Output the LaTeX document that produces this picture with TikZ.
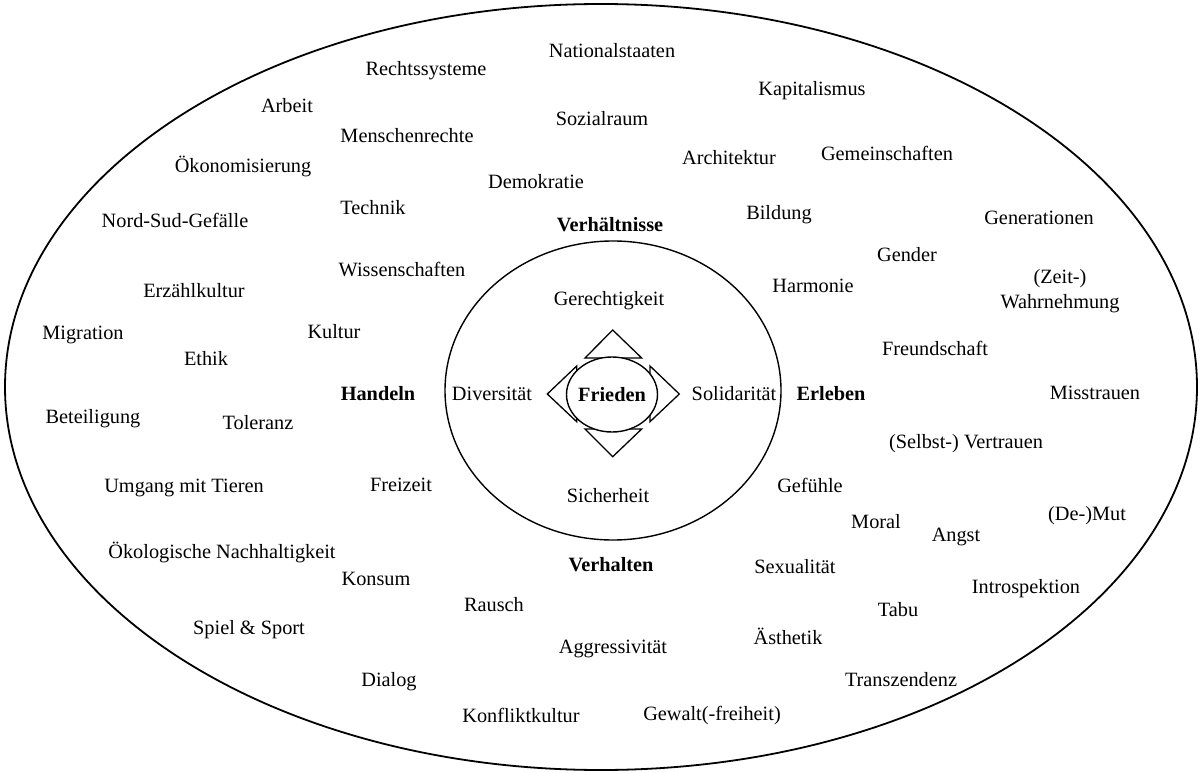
\documentclass[tikz,border=0pt]{standalone}
\usepackage{fontspec}
\setmainfont{Liberation Serif}
\usetikzlibrary{shapes.geometric}
\begin{document}
\begin{tikzpicture}[x=1pt,y=-1pt,
  lbl/.style={anchor=base,inner sep=0pt,yshift=-1.5pt,font=\fontsize{20.3}{24}\selectfont},
  blbl/.style={lbl,font=\fontsize{20.3}{24}\selectfont\bfseries},
  tri/.style={draw,line width=1.3pt,fill=white,line join=miter}]
\useasboundingbox (0,0) rectangle (1200,773);
% ellipses
\node[draw,line width=1.8pt,ellipse,minimum width=1192pt,minimum height=766pt,inner sep=0pt] (outer) at (601,387) {};
\node[draw,line width=1.4pt,ellipse,minimum width=336pt,minimum height=299pt,inner sep=0pt] (inner) at (613,390.5) {};
% triangles
\draw[tri] (585,358) -- (612.7,330) -- (641.7,358) -- cycle;
\draw[tri] (585,429) -- (612.7,456.7) -- (641.7,429) -- cycle;
\draw[tri] (576.7,366) -- (547.3,394) -- (576.7,421.7) -- cycle;
\draw[tri] (650,366) -- (679.3,394) -- (650,421.7) -- cycle;
\node[draw,line width=1.4pt,ellipse,fill=white,minimum width=91pt,minimum height=75pt,inner sep=0pt] (frieden) at (612,394.5) {};
\node[blbl] (fr) at (612,400) {Frieden};
% labels
\node[lbl] (n1) at (612,56) {Nationalstaaten};
\node[lbl] (n2) at (426,74) {Rechtssysteme};
\node[lbl] (n3) at (812,94) {Kapitalismus};
\node[lbl] (n4) at (287,111) {Arbeit};
\node[lbl] (n5) at (602,124) {Sozialraum};
\node[lbl] (n6) at (407,141) {Menschenrechte};
\node[lbl] (n7) at (729,163) {Architektur};
\node[lbl] (n8) at (887,159) {Gemeinschaften};
\node[lbl] (n9) at (243,171) {Ökonomisierung};
\node[lbl] (n10) at (536,187) {Demokratie};
\node[lbl] (n11) at (373,213) {Technik};
\node[lbl] (n12) at (779,218) {Bildung};
\node[lbl] (n13) at (175,226) {Nord-Sud-Gefälle};
\node[lbl] (n14) at (1039,223) {Generationen};
\node[blbl] (n15) at (610,230) {Verhältnisse};
\node[lbl] (n16) at (907,260) {Gender};
\node[lbl] (n17a) at (1060,282) {(Zeit-)};
\node[lbl] (n17b) at (1060,307) {Wahrnehmung};
\node[lbl] (n18) at (402,275) {Wissenschaften};
\node[lbl] (n19) at (813,291) {Harmonie};
\node[lbl] (n20) at (194,296) {Erzählkultur};
\node[lbl] (n21) at (609,304) {Gerechtigkeit};
\node[lbl] (n22) at (83,338) {Migration};
\node[lbl] (n23) at (334,337) {Kultur};
\node[lbl] (n24) at (935,354) {Freundschaft};
\node[lbl] (n25) at (206,364) {Ethik};
\node[blbl] (n26) at (378,399) {Handeln};
\node[lbl] (n27) at (492,399) {Diversität};
\node[lbl] (n28) at (734,399) {Solidarität};
\node[blbl] (n29) at (831,399) {Erleben};
\node[lbl] (n30) at (1095,398) {Misstrauen};
\node[lbl] (n31) at (93,422) {Beteiligung};
\node[lbl] (n32) at (258,428) {Toleranz};
\node[lbl] (n33) at (966,447) {(Selbst-) Vertrauen};
\node[lbl] (n34) at (184,491) {Umgang mit Tieren};
\node[lbl] (n35) at (401,490) {Freizeit};
\node[lbl] (n36) at (810,491) {Gefühle};
\node[lbl] (n37) at (608,501) {Sicherheit};
\node[lbl] (n38) at (1087,519) {(De-)Mut};
\node[lbl] (n39) at (876,527) {Moral};
\node[lbl] (n40) at (956,540) {Angst};
\node[lbl] (n41) at (222,557) {Ökologische Nachhaltigkeit};
\node[blbl] (n42) at (611,570) {Verhalten};
\node[lbl] (n43) at (795,572) {Sexualität};
\node[lbl] (n44) at (376,584) {Konsum};
\node[lbl] (n45) at (1026,592) {Introspektion};
\node[lbl] (n46) at (494,610) {Rausch};
\node[lbl] (n47) at (898,615) {Tabu};
\node[lbl] (n48) at (249,633) {Spiel \& Sport};
\node[lbl] (n49) at (788,643) {Ästhetik};
\node[lbl] (n50) at (613,652) {Aggressivität};
\node[lbl] (n51) at (389,685) {Dialog};
\node[lbl] (n52) at (901,685) {Transzendenz};
\node[lbl] (n53) at (521,721) {Konfliktkultur};
\node[lbl] (n54) at (712,719) {Gewalt(-freiheit)};
\end{tikzpicture}
\end{document}
